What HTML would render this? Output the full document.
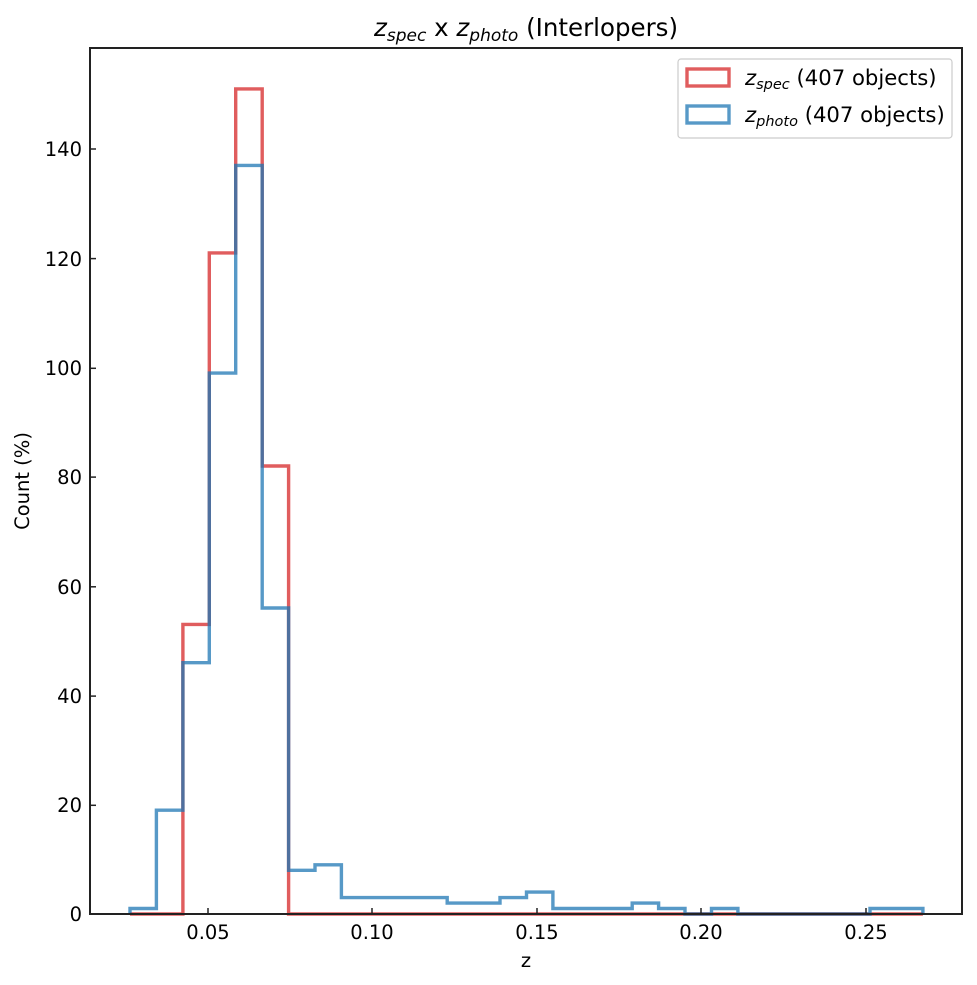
<!DOCTYPE html>
<html><head><style>body{margin:0;background:#fff}svg{display:block}text{font-family:"DejaVu Sans","Liberation Sans",sans-serif;fill:#000}</style></head>
<body>
<svg width="977" height="985" viewBox="0 0 977 985" xmlns="http://www.w3.org/2000/svg">
<rect width="977" height="985" fill="#fff"/>
<g fill="none" stroke-width="3.4" stroke-linejoin="miter">
<path d="M130,914 H182.9 V624.4 H209.3 V252.9 H235.7 V88.9 H262.2 V466 H288.6 V914 H922.9" stroke="#d62728" stroke-opacity="0.75"/>
<path d="M130,914 V908.5 H156.4 V810.2 H182.9 V662.7 H209.3 V373.1 H235.7 V165.4 H262.2 V608 H288.6 V870.3 H315 V864.8 H341.4 V897.6 H447.2 V903.1 H500 V897.6 H526.5 V892.1 H552.9 V908.5 H632.2 V903.1 H658.6 V908.5 H685 V914 H711.5 V908.5 H737.9 V914 H870 V908.5 H922.9 V914" stroke="#1f77b4" stroke-opacity="0.75"/>
</g>
<rect x="90" y="48" width="872" height="866" fill="none" stroke="#222" stroke-width="2"/>
<g stroke="#222" stroke-width="1.5">
<line x1="90" y1="914" x2="96" y2="914"/><line x1="90" y1="805.3" x2="96" y2="805.3"/><line x1="90" y1="696.1" x2="96" y2="696.1"/><line x1="90" y1="586.8" x2="96" y2="586.8"/><line x1="90" y1="477.1" x2="96" y2="477.1"/><line x1="90" y1="368.3" x2="96" y2="368.3"/><line x1="90" y1="258.6" x2="96" y2="258.6"/><line x1="90" y1="149" x2="96" y2="149"/>
<line x1="208" y1="914" x2="208" y2="908"/><line x1="372" y1="914" x2="372" y2="908"/><line x1="537" y1="914" x2="537" y2="908"/><line x1="701" y1="914" x2="701" y2="908"/><line x1="866" y1="914" x2="866" y2="908"/>
</g>
<g font-size="19.5" text-anchor="end">
<text x="82" y="921">0</text><text x="82" y="812">20</text><text x="82" y="703">40</text><text x="82" y="594">60</text><text x="82" y="484">80</text><text x="82" y="375">100</text><text x="82" y="266">120</text><text x="82" y="156">140</text>
</g>
<g font-size="19.5" text-anchor="middle">
<text x="208" y="939">0.05</text><text x="372" y="939">0.10</text><text x="537" y="939">0.15</text><text x="701" y="939">0.20</text><text x="866" y="939">0.25</text>
<text x="526" y="967">z</text>
<text transform="translate(29,481) rotate(-90)">Count (%)</text>
</g>
<text x="526" y="36" font-size="24.5" text-anchor="middle"><tspan font-style="italic">z</tspan><tspan font-style="italic" font-size="17" dy="5">spec</tspan><tspan dy="-5"> x </tspan><tspan font-style="italic">z</tspan><tspan font-style="italic" font-size="17" dy="5">photo</tspan><tspan dy="-5"> (Interlopers)</tspan></text>
<rect x="678" y="59" width="274" height="79" rx="3" fill="#fff" stroke="#ccc" stroke-width="1.2"/>
<rect x="687" y="69" width="42" height="17" fill="none" stroke="#d62728" stroke-opacity="0.75" stroke-width="3.4"/>
<rect x="687" y="106" width="42" height="17" fill="none" stroke="#1f77b4" stroke-opacity="0.75" stroke-width="3.4"/>
<text x="745" y="85" font-size="21.2"><tspan font-style="italic">z</tspan><tspan font-style="italic" font-size="14.5" dy="4">spec</tspan><tspan dy="-4"> (407 objects)</tspan></text>
<text x="745" y="122" font-size="21.2"><tspan font-style="italic">z</tspan><tspan font-style="italic" font-size="14.5" dy="4">photo</tspan><tspan dy="-4"> (407 objects)</tspan></text>
</svg>
</body></html>
